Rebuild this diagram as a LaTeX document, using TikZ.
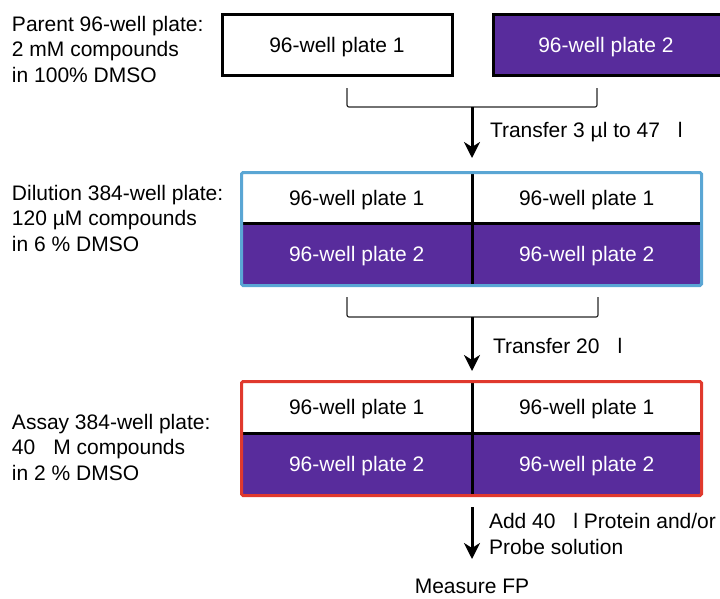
\documentclass[tikz,border=0pt]{standalone}
\usepackage{fontspec}
\setmainfont{Liberation Sans}
\usetikzlibrary{arrows.meta}
\definecolor{plum}{HTML}{582C9C}
\definecolor{skyb}{HTML}{5AA6D4}
\definecolor{redb}{HTML}{E0392D}
\begin{document}
\begin{tikzpicture}[x=1pt,y=-1pt,
  font=\fontsize{21}{25.5}\selectfont,
  every node/.style={inner sep=0pt, outer sep=0pt},
  lefttext/.style={anchor=west, align=left},
  whitecell/.style={fill=white, text=black, text height=15pt, text depth=0pt},
  plumcell/.style={fill=plum, text=white, text height=15pt, text depth=0pt},
  thickline/.style={line width=3pt, black},
  brace/.style={line width=1.2pt, black!85, rounded corners=2pt},
  arr/.style={line width=3pt, -{Stealth[length=16pt,width=16pt,inset=5pt]}},
  steplabel/.style={anchor=west, align=left}]
\useasboundingbox (0,0) rectangle (720,598);

% ---- Parent row
\node[lefttext] (lab1) at (12,49) {Parent 96-well plate:\\2 mM compounds\\in 100\% DMSO};
\node[draw=black, line width=3pt, fill=white, text height=15pt, text depth=0pt, minimum width=230pt, minimum height=61pt] (p1) at (337,45) {96-well plate 1};
\fill[plum] (493.5,14.5) rectangle (735,75.5);
\draw[thickline] (493.5,14.5) rectangle (735,75.5);
\node[text=white, text height=15pt, text depth=0pt] (p2) at (606,45) {96-well plate 2};

\coordinate (b1l) at (347,88);
\coordinate (b1r) at (597,88);
\coordinate (b1c) at (472,107);
\coordinate (a1e) at (472,158);
\draw[brace] (b1l) -- (b1l |- b1c) -- (b1r |- b1c) -- (b1r);
\draw[arr] (b1c) -- (a1e);
\node[steplabel] (t1) at (490,132) {Transfer 3 µl to 47\ \phantom{µ}l};

% ---- Dilution row
\node[lefttext] (lab2) at (12,218) {Dilution 384-well plate:\\120 µM compounds\\in 6 \% DMSO};
\node[whitecell, minimum width=230.5pt, minimum height=50.5pt] (d11) at (356.75,197.75) {96-well plate 1};
\node[whitecell, minimum width=229.5pt, minimum height=50.5pt] (d12) at (586.75,197.75) {96-well plate 1};
\node[plumcell, minimum width=230.5pt, minimum height=62.5pt] (d21) at (356.75,254.25) {96-well plate 2};
\node[plumcell, minimum width=229.5pt, minimum height=62.5pt] (d22) at (586.75,254.25) {96-well plate 2};
\draw[thickline] (d11.south west) -- (d12.south east);
\draw[thickline] (d11.north east) -- (d21.south east);
\draw[skyb, line width=3pt, rounded corners=1.5pt] (d11.north west) rectangle (d22.south east);

\coordinate (b2l) at (347,297);
\coordinate (b2r) at (598,297);
\coordinate (b2c) at (472,317);
\coordinate (a2e) at (472,371);
\draw[brace] (b2l) -- (b2l |- b2c) -- (b2r |- b2c) -- (b2r);
\draw[arr] (b2c) -- (a2e);
\node[steplabel] (t2) at (493,348) {Transfer 20\ \phantom{µ}l};

% ---- Assay row
\node[lefttext] (lab3) at (12,447) {Assay 384-well plate:\\40\ \phantom{µ}M compounds\\in 2 \% DMSO};
\node[whitecell, minimum width=230.5pt, minimum height=51.5pt] (s11) at (356.75,407.25) {96-well plate 1};
\node[whitecell, minimum width=229.5pt, minimum height=51.5pt] (s12) at (586.75,407.25) {96-well plate 1};
\node[plumcell, minimum width=230.5pt, minimum height=62.5pt] (s21) at (356.75,464.25) {96-well plate 2};
\node[plumcell, minimum width=229.5pt, minimum height=62.5pt] (s22) at (586.75,464.25) {96-well plate 2};
\draw[thickline] (s11.south west) -- (s12.south east);
\draw[thickline] (s11.north east) -- (s21.south east);
\draw[redb, line width=3pt, rounded corners=1.5pt] (s11.north west) rectangle (s22.south east);

\coordinate (a3s) at (472,507);
\coordinate (a3e) at (472,559);
\draw[arr] (a3s) -- (a3e);
\node[steplabel] (t3) at (489,534) {Add 40\ \phantom{µ}l Protein and/or\\Probe solution};

\node (fp) at (472,586) {Measure FP};
\end{tikzpicture}
\end{document}
